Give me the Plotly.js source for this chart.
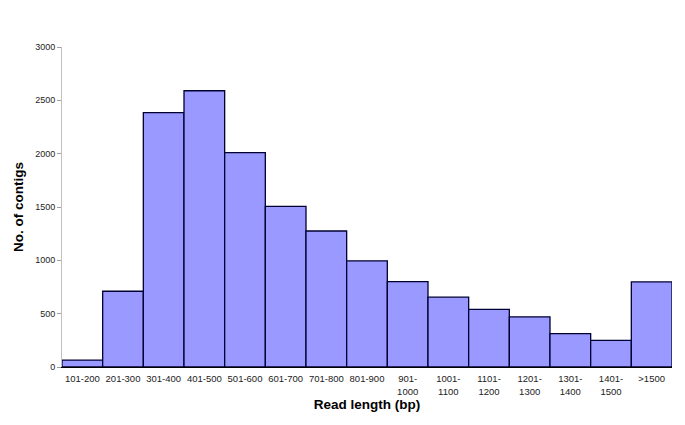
<!DOCTYPE html>
<html>
<head>
<meta charset="utf-8">
<script src="https://cdn.plot.ly/plotly-3.0.1.min.js"></script>
<style>
  html, body { margin: 0; padding: 0; background: #fff; }
  #chart { width: 685px; height: 425px; }
</style>
</head>
<body>
<div id="chart"></div>
<script>
const readLengths = ['101-200', '201-300', '301-400', '401-500', '501-600', '601-700', '701-800', '801-900',
    '901-<br>1000', '1001-<br>1100', '1101-<br>1200', '1201-<br>1300', '1301-<br>1400', '1401-<br>1500', '>1500'];
const contigCounts = [65, 710, 2385, 2590, 2010, 1505, 1275, 995, 800, 655, 540, 470, 312, 250, 798];
const yTicks = [0, 500, 1000, 1500, 2000, 2500, 3000];

const bars = {
    x: readLengths,
    y: contigCounts,
    type: 'bar',
    marker: {
        color: '#9999ff',
        line: {
            color: '#000033',
            width: 1.3
        }
    },
    hoverinfo: 'x+y'
};

const layout = {
    width: 685,
    height: 425,
    margin: {l: 62, r: 13, t: 47, b: 58},
    paper_bgcolor: '#ffffff',
    plot_bgcolor: '#ffffff',
    bargap: 0,
    showlegend: false,
    font: {family: 'Liberation Sans, Arial, sans-serif', size: 9, color: '#222222'},
    xaxis: {
        type: 'category',
        showline: true,
        linecolor: '#000000',
        linewidth: 1,
        ticks: '',
        tickangle: 0,
        ticklabelstandoff: 3,
        showgrid: false,
        tickfont: {size: 9.5},
        automargin: false,
        title: {
            text: 'Read length (bp)',
            font: {size: 13.5, color: '#000000', family: 'Liberation Sans, Arial, sans-serif', weight: 'bold'},
            standoff: 2
        }
    },
    yaxis: {
        range: [0, 3000],
        tickvals: yTicks,
        showline: true,
        linecolor: '#c0c0c0',
        linewidth: 1,
        ticks: 'outside',
        ticklen: 4,
        tickcolor: '#a0a0a0',
        showgrid: false,
        zeroline: false,
        tickfont: {size: 9},
        automargin: false,
        title: {
            text: 'No. of contigs',
            font: {size: 13.5, color: '#000000', family: 'Liberation Sans, Arial, sans-serif', weight: 'bold'},
            standoff: 8
        }
    }
};

Plotly.newPlot('chart', [bars], layout, {displayModeBar: false, staticPlot: true});
</script>
</body>
</html>
